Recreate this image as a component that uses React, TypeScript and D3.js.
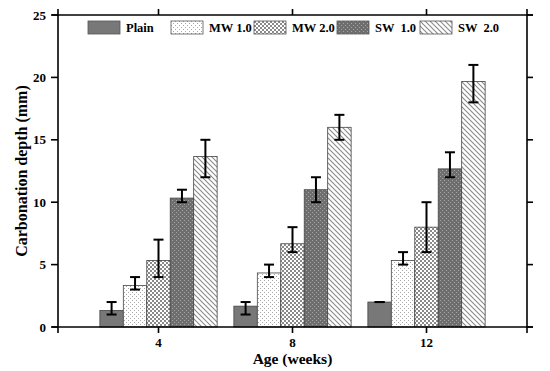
import React, { useEffect, useRef } from 'react';
import * as d3 from 'd3';

// ages in weeks
const ages = [4, 8, 12];
const seriesNames = ['Plain', 'MW 1.0', 'MW 2.0', 'SW  1.0', 'SW  2.0'];
const seriesKeys = ['plain', 'mw1', 'mw2', 'sw1', 'sw2'];

// mean carbonation depth (mm) per age
const plainVals = [1.33, 1.67, 2.0];
const mw1Vals = [3.33, 4.33, 5.33];
const mw2Vals = [5.33, 6.67, 8.0];
const sw1Vals = [10.33, 11.0, 12.67];
const sw2Vals = [13.67, 16.0, 19.67];

// error bar low / high
const plainLo = [1, 1, 2];
const plainHi = [2, 2, 2];
const mw1Lo = [3, 4, 5];
const mw1Hi = [4, 5, 6];
const mw2Lo = [4, 6, 6];
const mw2Hi = [7, 8, 10];
const sw1Lo = [10, 10, 12];
const sw1Hi = [11, 12, 14];
const sw2Lo = [12, 15, 18];
const sw2Hi = [15, 17, 21];

const yTicks = [0, 5, 10, 15, 20, 25];

const FONT = '"Liberation Serif", "Times New Roman", serif';

const App = () => {
  const svgRef = useRef<SVGSVGElement>(null);

  useEffect(() => {
    const svg = d3.select(svgRef.current);
    svg.selectAll('*').remove();

    const width = 550;
    const height = 371;
    const left = 58;
    const right = 527;
    const top = 15;
    const bottom = 327;

    const x = d3.scaleLinear().domain([1, 15]).range([left, right]);
    const y = d3.scaleLinear().domain([0, 25]).range([bottom, top]);

    const vals = [plainVals, mw1Vals, mw2Vals, sw1Vals, sw2Vals];
    const los = [plainLo, mw1Lo, mw2Lo, sw1Lo, sw2Lo];
    const his = [plainHi, mw1Hi, mw2Hi, sw1Hi, sw2Hi];
    const barW = 0.7; // in weeks

    svg.attr('width', width).attr('height', height);

    // patterns
    const defs = svg.append('defs');
    const p1 = defs
      .append('pattern')
      .attr('id', 'pat-mw1')
      .attr('patternUnits', 'userSpaceOnUse')
      .attr('width', 4)
      .attr('height', 4);
    p1.append('rect').attr('width', 4).attr('height', 4).attr('fill', '#fff');
    p1.append('rect').attr('x', 0).attr('y', 0).attr('width', 1).attr('height', 1).attr('fill', '#a8a8a8');
    p1.append('rect').attr('x', 2).attr('y', 2).attr('width', 1).attr('height', 1).attr('fill', '#a8a8a8');

    const p2 = defs
      .append('pattern')
      .attr('id', 'pat-mw2')
      .attr('patternUnits', 'userSpaceOnUse')
      .attr('width', 4)
      .attr('height', 4);
    p2.append('rect').attr('width', 4).attr('height', 4).attr('fill', '#fff');
    p2.append('rect').attr('x', 0).attr('y', 0).attr('width', 2).attr('height', 2).attr('fill', '#8a8a8a');
    p2.append('rect').attr('x', 2).attr('y', 2).attr('width', 2).attr('height', 2).attr('fill', '#8a8a8a');

    const p3 = defs
      .append('pattern')
      .attr('id', 'pat-sw1')
      .attr('patternUnits', 'userSpaceOnUse')
      .attr('width', 4)
      .attr('height', 4);
    p3.append('rect').attr('width', 4).attr('height', 4).attr('fill', '#6e6e6e');
    p3.append('rect').attr('x', 0).attr('y', 0).attr('width', 1).attr('height', 1).attr('fill', '#a5a5a5');
    p3.append('rect').attr('x', 2).attr('y', 2).attr('width', 1).attr('height', 1).attr('fill', '#a5a5a5');

    const p4 = defs
      .append('pattern')
      .attr('id', 'pat-sw2')
      .attr('patternUnits', 'userSpaceOnUse')
      .attr('width', 5)
      .attr('height', 5);
    p4.append('rect').attr('width', 5).attr('height', 5).attr('fill', '#fff');
    p4.append('path')
      .attr('d', 'M-1,-1 L6,6 M-1,4 L1,6 M4,-1 L6,1')
      .attr('stroke', '#8a8a8a')
      .attr('stroke-width', 1.1);

    const fills = ['#787878', 'url(#pat-mw1)', 'url(#pat-mw2)', 'url(#pat-sw1)', 'url(#pat-sw2)'];

    // bars
    seriesKeys.forEach((key, i) => {
      const g = svg.append('g').attr('class', `bars-${key}`);
      g.selectAll('rect')
        .data(ages.map((a, j) => ({ age: a, v: vals[i][j] })))
        .enter()
        .append('rect')
        .attr('x', (d) => x(d.age + (i - 2.5) * barW))
        .attr('y', (d) => y(d.v))
        .attr('width', x(1 + barW) - x(1))
        .attr('height', (d) => y(0) - y(d.v))
        .attr('fill', fills[i])
        .attr('stroke', '#444')
        .attr('stroke-width', 0.8);
    });

    // error bars
    seriesKeys.forEach((key, i) => {
      const g = svg.append('g').attr('class', `err-${key}`);
      ages.forEach((a, j) => {
        const cx = x(a + (i - 2) * barW);
        const y1 = y(los[i][j]);
        const y2 = y(his[i][j]);
        g.append('line')
          .attr('x1', cx).attr('x2', cx).attr('y1', y1).attr('y2', y2)
          .attr('stroke', '#000').attr('stroke-width', 2);
        [y1, y2].forEach((yy) => {
          g.append('line')
            .attr('x1', cx - 5).attr('x2', cx + 5).attr('y1', yy).attr('y2', yy)
            .attr('stroke', '#000').attr('stroke-width', 2);
        });
      });
    });

    // frame (axis lines run a bit past the corners)
    const ext = 6;
    const frame = svg.append('g').attr('stroke', '#000').attr('stroke-width', 1.6);
    frame.append('line').attr('x1', left).attr('x2', left).attr('y1', top - ext).attr('y2', bottom + ext);
    frame.append('line').attr('x1', right).attr('x2', right).attr('y1', top - ext).attr('y2', bottom + ext);
    frame.append('line').attr('x1', left - ext).attr('x2', right + ext).attr('y1', top).attr('y2', top);
    frame.append('line').attr('x1', left - ext).attr('x2', right + ext).attr('y1', bottom).attr('y2', bottom);

    // ticks
    yTicks.forEach((t) => {
      frame.append('line').attr('x1', left - 7).attr('x2', left).attr('y1', y(t)).attr('y2', y(t));
      frame.append('line').attr('x1', right).attr('x2', right + 6).attr('y1', y(t)).attr('y2', y(t));
    });
    ages.forEach((a) => {
      frame.append('line').attr('x1', x(a)).attr('x2', x(a)).attr('y1', bottom).attr('y2', bottom + 6);
      frame.append('line').attr('x1', x(a)).attr('x2', x(a)).attr('y1', top - 6).attr('y2', top);
    });

    // tick labels
    svg.append('g')
      .selectAll('text')
      .data(yTicks)
      .enter()
      .append('text')
      .attr('x', left - 12)
      .attr('y', (d) => y(d))
      .attr('dy', '0.35em')
      .attr('text-anchor', 'end')
      .style('font-family', FONT)
      .style('font-weight', 'bold')
      .style('font-size', '13px')
      .text((d) => d);

    svg.append('g')
      .selectAll('text')
      .data(ages)
      .enter()
      .append('text')
      .attr('x', (d) => x(d))
      .attr('y', bottom + 20)
      .attr('text-anchor', 'middle')
      .style('font-family', FONT)
      .style('font-weight', 'bold')
      .style('font-size', '13px')
      .text((d) => d);

    // axis titles
    svg.append('text')
      .attr('x', (left + right) / 2)
      .attr('y', 364)
      .attr('text-anchor', 'middle')
      .style('font-family', FONT)
      .style('font-weight', 'bold')
      .style('font-size', '15.5px')
      .text('Age (weeks)');

    svg.append('text')
      .attr('transform', `translate(21,${(top + bottom) / 2}) rotate(-90)`)
      .attr('text-anchor', 'middle')
      .attr('dy', '0.35em')
      .style('font-family', FONT)
      .style('font-weight', 'bold')
      .style('font-size', '16px')
      .text('Carbonation depth (mm)');

    // legend
    const legend = svg.append('g').attr('transform', 'translate(88,21)');
    seriesNames.forEach((name, i) => {
      const lg = legend.append('g').attr('transform', `translate(${i * 83},0)`);
      lg.append('rect')
        .attr('width', 32)
        .attr('height', 13)
        .attr('fill', fills[i])
        .attr('stroke', '#555')
        .attr('stroke-width', 0.8);
      lg.append('text')
        .attr('x', 38)
        .attr('y', 6.5)
        .attr('dy', '0.35em')
        .style('font-family', FONT)
        .style('font-weight', 'bold')
        .style('font-size', '12.5px')
        .style('white-space', 'pre')
        .text(name);
    });
  }, []);

  return (
    <svg
      ref={svgRef}
      style={{ position: 'absolute', left: 0, top: 0, background: '#fff' }}
    ></svg>
  );
};

export default App;
